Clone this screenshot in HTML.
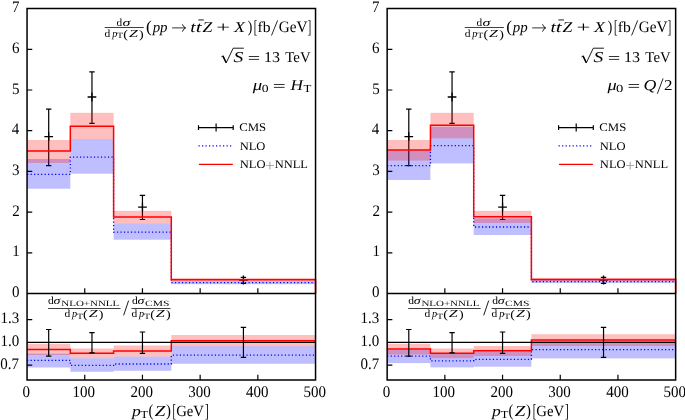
<!DOCTYPE html>
<html><head><meta charset="utf-8"><style>
html,body{margin:0;padding:0;background:#fff;width:685px;height:420px;overflow:hidden}
svg{display:block}
text{font-family:'Liberation Serif',serif;text-rendering:geometricPrecision}
svg{will-change:transform}
</style></head><body>
<svg width="685" height="420" viewBox="0 0 685 420">
<path d="M48.69 109.1V165.6M45.99 109.1H51.39M45.99 165.6H51.39" stroke="#000" stroke-width="1.2" fill="none"/>
<path d="M44.34 136.6H53.04M48.69 132.2V141" stroke="#000" stroke-width="1.3" fill="none"/>
<path d="M91.96 71.8V123.4M89.26 71.8H94.66M89.26 123.4H94.66" stroke="#000" stroke-width="1.2" fill="none"/>
<path d="M87.61 97H96.31M91.96 92.6V101.4" stroke="#000" stroke-width="1.3" fill="none"/>
<path d="M142.45 195.3V219.5M139.75 195.3H145.15M139.75 219.5H145.15" stroke="#000" stroke-width="1.2" fill="none"/>
<path d="M138.1 207.2H146.8M142.45 202.8V211.6" stroke="#000" stroke-width="1.3" fill="none"/>
<path d="M243.43 277.3V283.4M240.73 277.3H246.12M240.73 283.4H246.12" stroke="#000" stroke-width="1.2" fill="none"/>
<path d="M239.08 280H247.78M243.43 275.6V284.4" stroke="#000" stroke-width="1.3" fill="none"/>
<rect x="27.05" y="159" width="43.28" height="29.7" fill="rgba(0,0,255,0.25)"/>
<rect x="70.33" y="139.2" width="43.27" height="34.5" fill="rgba(0,0,255,0.25)"/>
<rect x="113.6" y="223.3" width="57.7" height="16.4" fill="rgba(0,0,255,0.25)"/>
<rect x="171.3" y="281" width="144.25" height="3.2" fill="rgba(0,0,255,0.25)"/>
<rect x="27.05" y="140" width="43.28" height="23" fill="rgba(255,0,0,0.25)"/>
<rect x="70.33" y="112.8" width="43.27" height="26.6" fill="rgba(255,0,0,0.25)"/>
<rect x="113.6" y="210.8" width="57.7" height="12.5" fill="rgba(255,0,0,0.25)"/>
<rect x="171.3" y="277.9" width="144.25" height="3.1" fill="rgba(255,0,0,0.25)"/>
<polyline points="27.05,174.3 70.33,174.3 70.33,157.2 113.6,157.2 113.6,232.2 171.3,232.2 171.3,282.7 315.55,282.7" fill="none" stroke="#0000ff" stroke-width="1.3" stroke-dasharray="1.2 2.3"/>
<rect x="27.05" y="353.6" width="43.28" height="13.9" fill="rgba(0,0,255,0.25)"/>
<rect x="70.33" y="358.2" width="43.27" height="13.6" fill="rgba(0,0,255,0.25)"/>
<rect x="113.6" y="356.5" width="57.7" height="14.3" fill="rgba(0,0,255,0.25)"/>
<rect x="171.3" y="346.2" width="144.25" height="17.6" fill="rgba(0,0,255,0.25)"/>
<rect x="27.05" y="343.8" width="43.28" height="11.2" fill="rgba(255,0,0,0.25)"/>
<rect x="70.33" y="348.5" width="43.27" height="9.7" fill="rgba(255,0,0,0.25)"/>
<rect x="113.6" y="345.5" width="57.7" height="11" fill="rgba(255,0,0,0.25)"/>
<rect x="171.3" y="335" width="144.25" height="11.4" fill="rgba(255,0,0,0.25)"/>
<polyline points="27.05,360.4 70.33,360.4 70.33,365.4 113.6,365.4 113.6,364 171.3,364 171.3,355.2 315.55,355.2" fill="none" stroke="#0000ff" stroke-width="1.3" stroke-dasharray="1.2 2.3"/>
<polyline points="27.05,151 70.33,151 70.33,126.2 113.6,126.2 113.6,217 171.3,217 171.3,279.8 315.55,279.8 315.55,293.5" fill="none" stroke="#ff0000" stroke-width="1.5"/>
<polyline points="27.05,349.6 70.33,349.6 70.33,353.3 113.6,353.3 113.6,351.1 171.3,351.1 171.3,340.8 315.55,340.8" fill="none" stroke="#ff0000" stroke-width="1.5"/>
<line x1="27.05" y1="342.4" x2="315.55" y2="342.4" stroke="#000" stroke-width="1.2"/>
<path d="M48.69 329.5V356.2M45.99 329.5H51.39M45.99 356.2H51.39" stroke="#000" stroke-width="1.2" fill="none"/>
<path d="M91.96 332.6V352.8M89.26 332.6H94.66M89.26 352.8H94.66" stroke="#000" stroke-width="1.2" fill="none"/>
<path d="M142.45 332V353.3M139.75 332H145.15M139.75 353.3H145.15" stroke="#000" stroke-width="1.2" fill="none"/>
<path d="M243.43 327.3V357.4M240.73 327.3H246.12M240.73 357.4H246.12" stroke="#000" stroke-width="1.2" fill="none"/>
<path d="M27.05 8.6H315.55V379.9H27.05ZM27.05 293.5H315.55" stroke="#000" stroke-width="1.5" fill="none"/>
<path d="M27.05 252.8h5.2M27.05 212.1h5.2M27.05 171.4h5.2M27.05 130.7h5.2M27.05 90h5.2M27.05 49.3h5.2M27.05 365.2h5.2M27.05 319.6h5.2M84.75 293.5v-5.2M84.75 379.9v-5.2M142.45 293.5v-5.2M142.45 379.9v-5.2M200.15 293.5v-5.2M200.15 379.9v-5.2M257.85 293.5v-5.2M257.85 379.9v-5.2" stroke="#000" stroke-width="1.2" fill="none"/>
<text transform="translate(12.02 297) scale(1.000 1.070)" font-size="15">0</text>
<text transform="translate(12.35 256.3) scale(1.000 1.070)" font-size="15">1</text>
<text transform="translate(12.28 215.6) scale(1.000 1.070)" font-size="15">2</text>
<text transform="translate(12.04 174.9) scale(1.000 1.070)" font-size="15">3</text>
<text transform="translate(11.68 134.2) scale(1.000 1.070)" font-size="15">4</text>
<text transform="translate(12.04 93.5) scale(1.000 1.070)" font-size="15">5</text>
<text transform="translate(11.9 52.8) scale(1.000 1.070)" font-size="15">6</text>
<text transform="translate(11.88 12.1) scale(1.000 1.070)" font-size="15">7</text>
<text transform="translate(0.33 368.9) scale(1.000 1.070)" font-size="15">0.7</text>
<text transform="translate(0.47 346.1) scale(1.000 1.070)" font-size="15">1.0</text>
<text transform="translate(0.49 323.3) scale(1.000 1.070)" font-size="15">1.3</text>
<text transform="translate(22.6 396.6) scale(1.000 1.080)" font-size="15">0</text>
<text transform="translate(72.43 396.6) scale(1.000 1.080)" font-size="15">100</text>
<text transform="translate(130.46 396.6) scale(1.000 1.080)" font-size="15">200</text>
<text transform="translate(188.13 396.6) scale(1.000 1.080)" font-size="15">300</text>
<text transform="translate(246.04 396.6) scale(1.000 1.080)" font-size="15">400</text>
<text transform="translate(303.45 396.6) scale(1.000 1.080)" font-size="15">500</text>
<text transform="translate(116.49 25.6) scale(1.046 1.000)" font-size="10.8">d</text>
<text transform="translate(122.52 25.6) scale(1.477 1.000)" font-size="10.8" font-style="italic">σ</text>
<rect x="104.7" y="27.2" width="39.1" height="0.75" fill="#000"/>
<text transform="translate(104.58 36.6) scale(1.066 1.000)" font-size="10.8">d</text>
<text transform="translate(112.2 36.6) scale(0.946 1.000)" font-size="10.8" font-style="italic">p</text>
<text transform="translate(117.12 38.4) scale(1.237 1.000)" font-size="8">T</text>
<text transform="translate(123.28 37.53) scale(1.298 1.072)" font-size="10.8">(</text>
<text transform="translate(128.91 36.6) scale(1.475 1.000)" font-size="10.8" font-style="italic">Z</text>
<text transform="translate(139.05 37.53) scale(1.298 1.072)" font-size="10.8">)</text>
<text transform="translate(146.05 32) scale(1.142 1.096)" font-size="15">(</text>
<text transform="translate(152.67 31.6) scale(0.992 1.000)" font-size="15" font-style="italic">pp</text>
<path d="M172.1 27.9H185.2" stroke="#000" stroke-width="0.8"/>
<path d="M182.4 24.3Q183.4 27.1 185.7 27.9Q183.4 28.7 182.4 31.6" stroke="#000" stroke-width="0.9" fill="none"/>
<text transform="translate(190.35 31.6) scale(1.287 1.000)" font-size="15" font-style="italic">t</text>
<text transform="translate(195.77 31.6) scale(1.418 1.000)" font-size="15" font-style="italic">t</text>
<rect x="198.3" y="19.5" width="5.5" height="0.9" fill="#000"/>
<text transform="translate(202.48 31.6) scale(1.183 1.000)" font-size="15" font-style="italic">Z</text>
<text transform="translate(216.28 31.6) scale(1.633 1.000)" font-size="15">+</text>
<text transform="translate(233.9 31.6) scale(1.203 1.000)" font-size="15" font-style="italic">X</text>
<text transform="translate(247.76 32) scale(0.908 1.096)" font-size="15">)</text>
<text transform="translate(253.83 33.04) scale(0.689 1.224)" font-size="15">[</text>
<text transform="translate(257.62 31.55) scale(1.038 0.999)" font-size="15">fb</text>
<path d="M271.5 35.5L277.6 20.4" stroke="#000" stroke-width="0.85"/>
<text transform="translate(278.67 31.56) scale(1.020 1.063)" font-size="15">GeV</text>
<text transform="translate(307.73 33.04) scale(0.689 1.224)" font-size="15">]</text>
<path d="M221.4 56.9L222.9 55.9L226.2 62.8L233.2 48.2H243.8" fill="none" stroke="#000" stroke-width="0.9" stroke-linejoin="miter"/>
<path d="M222.9 55.9L226.2 62.8" fill="none" stroke="#000" stroke-width="1.5"/>
<text transform="translate(233.47 61.7) scale(1.313 1.000)" font-size="15" font-style="italic">S</text>
<path d="M248.8 56.5H259.1M248.8 59.4H259.1" stroke="#000" stroke-width="0.8"/>
<text transform="translate(263.99 61.7) scale(1.069 1.000)" font-size="15">13</text>
<text transform="translate(285.23 61.7) scale(0.992 1.000)" font-size="15">TeV</text>
<text transform="translate(252.82 90) scale(1.249 1.000)" font-size="15" font-style="italic">μ</text>
<text transform="translate(261.68 92.4) scale(1.267 1.000)" font-size="10.8">0</text>
<path d="M273.9 84.5H284.6M273.9 87.4H284.6" stroke="#000" stroke-width="0.8"/>
<text transform="translate(290.39 90) scale(1.148 1.000)" font-size="15" font-style="italic">H</text>
<text transform="translate(303.57 92.4) scale(1.189 1.000)" font-size="10.8">T</text>
<path d="M198.5 127.7H233.2M198.5 125.3V130.1M233.2 125.3V130.1M216.1 123.5V131.5" stroke="#000" stroke-width="1.2" fill="none"/>
<text transform="translate(239.18 131) scale(1.103 1.000)" font-size="11.6">CMS</text>
<path d="M198.5 145.9H232.5" stroke="#0000ff" stroke-width="1.2" stroke-dasharray="1.2 2.3" fill="none"/>
<text transform="translate(239.64 149.6) scale(1.081 1.000)" font-size="11.6">NLO</text>
<path d="M198.9 164.4H232.8" stroke="#ff0000" stroke-width="1.4" fill="none"/>
<text transform="translate(239.74 167.9) scale(1.081 1.000)" font-size="11.6">NLO</text>
<text transform="translate(265.03 170.62) scale(1.501 1.406)" font-size="11.6" fill="#999">+</text>
<text transform="translate(274.74 167.9) scale(1.074 1.000)" font-size="11.6">NNLL</text>
<text transform="translate(48.08 303.8) scale(1.066 1.000)" font-size="10.8">d</text>
<text transform="translate(53.58 303.8) scale(1.290 1.000)" font-size="10.8" font-style="italic">σ</text>
<text transform="translate(61.28 306.2) scale(1.371 1.000)" font-size="8">NLO+NNLL</text>
<rect x="48.1" y="308.25" width="72.4" height="0.75" fill="#000"/>
<text transform="translate(64.38 316.9) scale(1.066 1.000)" font-size="10.8">d</text>
<text transform="translate(72 316.9) scale(0.946 1.000)" font-size="10.8" font-style="italic">p</text>
<text transform="translate(76.92 318.7) scale(1.237 1.000)" font-size="8">T</text>
<text transform="translate(83.08 317.83) scale(1.298 1.072)" font-size="10.8">(</text>
<text transform="translate(88.71 316.9) scale(1.475 1.000)" font-size="10.8" font-style="italic">Z</text>
<text transform="translate(98.85 317.83) scale(1.298 1.072)" font-size="10.8">)</text>
<path d="M123.6 315.4L128.6 300.6" stroke="#000" stroke-width="0.9"/>
<text transform="translate(132.08 303.8) scale(1.066 1.000)" font-size="10.8">d</text>
<text transform="translate(137.58 303.8) scale(1.290 1.000)" font-size="10.8" font-style="italic">σ</text>
<text transform="translate(144.93 306.2) scale(1.443 1.000)" font-size="8">CMS</text>
<rect x="131.4" y="308.25" width="39.1" height="0.75" fill="#000"/>
<text transform="translate(131.48 316.9) scale(1.066 1.000)" font-size="10.8">d</text>
<text transform="translate(139.1 316.9) scale(0.946 1.000)" font-size="10.8" font-style="italic">p</text>
<text transform="translate(144.02 318.7) scale(1.237 1.000)" font-size="8">T</text>
<text transform="translate(150.18 317.83) scale(1.298 1.072)" font-size="10.8">(</text>
<text transform="translate(155.81 316.9) scale(1.475 1.000)" font-size="10.8" font-style="italic">Z</text>
<text transform="translate(165.95 317.83) scale(1.298 1.072)" font-size="10.8">)</text>
<text transform="translate(131.93 415.7) scale(1.174 1.000)" font-size="15" font-style="italic">p</text>
<text transform="translate(140.57 417.7) scale(1.157 1.000)" font-size="10.8">T</text>
<text transform="translate(148.45 415.96) scale(0.986 1.140)" font-size="15">(</text>
<text transform="translate(154.77 415.6) scale(1.268 1.028)" font-size="15" font-style="italic">Z</text>
<text transform="translate(166.02 415.96) scale(0.986 1.140)" font-size="15">)</text>
<text transform="translate(172.53 417.09) scale(0.689 1.249)" font-size="15">[</text>
<text transform="translate(176.2 415.57) scale(0.980 1.034)" font-size="15">GeV</text>
<text transform="translate(204.99 417.09) scale(0.749 1.249)" font-size="15">]</text>
<path d="M408.79 109.1V165.6M406.09 109.1H411.49M406.09 165.6H411.49" stroke="#000" stroke-width="1.2" fill="none"/>
<path d="M404.44 136.6H413.14M408.79 132.2V141" stroke="#000" stroke-width="1.3" fill="none"/>
<path d="M452.06 71.8V123.4M449.36 71.8H454.76M449.36 123.4H454.76" stroke="#000" stroke-width="1.2" fill="none"/>
<path d="M447.71 97H456.41M452.06 92.6V101.4" stroke="#000" stroke-width="1.3" fill="none"/>
<path d="M502.55 195.3V219.5M499.85 195.3H505.25M499.85 219.5H505.25" stroke="#000" stroke-width="1.2" fill="none"/>
<path d="M498.2 207.2H506.9M502.55 202.8V211.6" stroke="#000" stroke-width="1.3" fill="none"/>
<path d="M603.53 277.3V283.4M600.83 277.3H606.23M600.83 283.4H606.23" stroke="#000" stroke-width="1.2" fill="none"/>
<path d="M599.18 280H607.88M603.53 275.6V284.4" stroke="#000" stroke-width="1.3" fill="none"/>
<rect x="387.15" y="150.3" width="43.27" height="29.7" fill="rgba(0,0,255,0.25)"/>
<rect x="430.43" y="126.8" width="43.28" height="36.6" fill="rgba(0,0,255,0.25)"/>
<rect x="473.7" y="218.3" width="57.7" height="16.7" fill="rgba(0,0,255,0.25)"/>
<rect x="531.4" y="279.8" width="144.25" height="3.2" fill="rgba(0,0,255,0.25)"/>
<rect x="387.15" y="140" width="43.27" height="20.6" fill="rgba(255,0,0,0.25)"/>
<rect x="430.43" y="112.8" width="43.28" height="25.6" fill="rgba(255,0,0,0.25)"/>
<rect x="473.7" y="210.8" width="57.7" height="12.2" fill="rgba(255,0,0,0.25)"/>
<rect x="531.4" y="277.9" width="144.25" height="3.1" fill="rgba(255,0,0,0.25)"/>
<polyline points="387.15,165.6 430.43,165.6 430.43,145.7 473.7,145.7 473.7,227 531.4,227 531.4,281.6 675.65,281.6" fill="none" stroke="#0000ff" stroke-width="1.3" stroke-dasharray="1.2 2.3"/>
<rect x="387.15" y="349.9" width="43.27" height="13.2" fill="rgba(0,0,255,0.25)"/>
<rect x="430.43" y="353.9" width="43.28" height="13.5" fill="rgba(0,0,255,0.25)"/>
<rect x="473.7" y="351.4" width="57.7" height="15.3" fill="rgba(0,0,255,0.25)"/>
<rect x="531.4" y="340.4" width="144.25" height="18" fill="rgba(0,0,255,0.25)"/>
<rect x="387.15" y="343.8" width="43.27" height="10.8" fill="rgba(255,0,0,0.25)"/>
<rect x="430.43" y="348.5" width="43.28" height="9.7" fill="rgba(255,0,0,0.25)"/>
<rect x="473.7" y="346" width="57.7" height="10" fill="rgba(255,0,0,0.25)"/>
<rect x="531.4" y="334.2" width="144.25" height="11.8" fill="rgba(255,0,0,0.25)"/>
<polyline points="387.15,356.1 430.43,356.1 430.43,360.9 473.7,360.9 473.7,359.4 531.4,359.4 531.4,349.6 675.65,349.6" fill="none" stroke="#0000ff" stroke-width="1.3" stroke-dasharray="1.2 2.3"/>
<polyline points="387.15,149.9 430.43,149.9 430.43,125.2 473.7,125.2 473.7,216.7 531.4,216.7 531.4,279.6 675.65,279.6 675.65,293.5" fill="none" stroke="#ff0000" stroke-width="1.5"/>
<polyline points="387.15,348.9 430.43,348.9 430.43,353.3 473.7,353.3 473.7,350.7 531.4,350.7 531.4,340.1 675.65,340.1" fill="none" stroke="#ff0000" stroke-width="1.5"/>
<line x1="387.15" y1="342.4" x2="675.65" y2="342.4" stroke="#000" stroke-width="1.2"/>
<path d="M408.79 329.5V356.2M406.09 329.5H411.49M406.09 356.2H411.49" stroke="#000" stroke-width="1.2" fill="none"/>
<path d="M452.06 332.6V352.8M449.36 332.6H454.76M449.36 352.8H454.76" stroke="#000" stroke-width="1.2" fill="none"/>
<path d="M502.55 332V353.3M499.85 332H505.25M499.85 353.3H505.25" stroke="#000" stroke-width="1.2" fill="none"/>
<path d="M603.53 327.3V357.4M600.83 327.3H606.23M600.83 357.4H606.23" stroke="#000" stroke-width="1.2" fill="none"/>
<path d="M387.15 8.6H675.65V379.9H387.15ZM387.15 293.5H675.65" stroke="#000" stroke-width="1.5" fill="none"/>
<path d="M387.15 252.8h5.2M387.15 212.1h5.2M387.15 171.4h5.2M387.15 130.7h5.2M387.15 90h5.2M387.15 49.3h5.2M387.15 365.2h5.2M387.15 319.6h5.2M444.85 293.5v-5.2M444.85 379.9v-5.2M502.55 293.5v-5.2M502.55 379.9v-5.2M560.25 293.5v-5.2M560.25 379.9v-5.2M617.95 293.5v-5.2M617.95 379.9v-5.2" stroke="#000" stroke-width="1.2" fill="none"/>
<text transform="translate(372.12 297) scale(1.000 1.070)" font-size="15">0</text>
<text transform="translate(372.45 256.3) scale(1.000 1.070)" font-size="15">1</text>
<text transform="translate(372.38 215.6) scale(1.000 1.070)" font-size="15">2</text>
<text transform="translate(372.14 174.9) scale(1.000 1.070)" font-size="15">3</text>
<text transform="translate(371.78 134.2) scale(1.000 1.070)" font-size="15">4</text>
<text transform="translate(372.14 93.5) scale(1.000 1.070)" font-size="15">5</text>
<text transform="translate(372 52.8) scale(1.000 1.070)" font-size="15">6</text>
<text transform="translate(371.98 12.1) scale(1.000 1.070)" font-size="15">7</text>
<text transform="translate(360.43 368.9) scale(1.000 1.070)" font-size="15">0.7</text>
<text transform="translate(360.57 346.1) scale(1.000 1.070)" font-size="15">1.0</text>
<text transform="translate(360.59 323.3) scale(1.000 1.070)" font-size="15">1.3</text>
<text transform="translate(382.7 396.6) scale(1.000 1.080)" font-size="15">0</text>
<text transform="translate(432.53 396.6) scale(1.000 1.080)" font-size="15">100</text>
<text transform="translate(490.56 396.6) scale(1.000 1.080)" font-size="15">200</text>
<text transform="translate(548.23 396.6) scale(1.000 1.080)" font-size="15">300</text>
<text transform="translate(606.14 396.6) scale(1.000 1.080)" font-size="15">400</text>
<text transform="translate(663.55 396.6) scale(1.000 1.080)" font-size="15">500</text>
<text transform="translate(476.59 25.6) scale(1.046 1.000)" font-size="10.8">d</text>
<text transform="translate(482.62 25.6) scale(1.477 1.000)" font-size="10.8" font-style="italic">σ</text>
<rect x="464.8" y="27.2" width="39.1" height="0.75" fill="#000"/>
<text transform="translate(464.68 36.6) scale(1.066 1.000)" font-size="10.8">d</text>
<text transform="translate(472.3 36.6) scale(0.946 1.000)" font-size="10.8" font-style="italic">p</text>
<text transform="translate(477.22 38.4) scale(1.237 1.000)" font-size="8">T</text>
<text transform="translate(483.38 37.53) scale(1.298 1.072)" font-size="10.8">(</text>
<text transform="translate(489.01 36.6) scale(1.475 1.000)" font-size="10.8" font-style="italic">Z</text>
<text transform="translate(499.15 37.53) scale(1.298 1.072)" font-size="10.8">)</text>
<text transform="translate(506.15 32) scale(1.142 1.096)" font-size="15">(</text>
<text transform="translate(512.77 31.6) scale(0.992 1.000)" font-size="15" font-style="italic">pp</text>
<path d="M532.2 27.9H545.3" stroke="#000" stroke-width="0.8"/>
<path d="M542.5 24.3Q543.5 27.1 545.8 27.9Q543.5 28.7 542.5 31.6" stroke="#000" stroke-width="0.9" fill="none"/>
<text transform="translate(550.45 31.6) scale(1.287 1.000)" font-size="15" font-style="italic">t</text>
<text transform="translate(555.87 31.6) scale(1.418 1.000)" font-size="15" font-style="italic">t</text>
<rect x="558.4" y="19.5" width="5.5" height="0.9" fill="#000"/>
<text transform="translate(562.58 31.6) scale(1.183 1.000)" font-size="15" font-style="italic">Z</text>
<text transform="translate(576.38 31.6) scale(1.633 1.000)" font-size="15">+</text>
<text transform="translate(594 31.6) scale(1.203 1.000)" font-size="15" font-style="italic">X</text>
<text transform="translate(607.86 32) scale(0.908 1.096)" font-size="15">)</text>
<text transform="translate(613.93 33.04) scale(0.689 1.224)" font-size="15">[</text>
<text transform="translate(617.72 31.55) scale(1.038 0.999)" font-size="15">fb</text>
<path d="M631.6 35.5L637.7 20.4" stroke="#000" stroke-width="0.85"/>
<text transform="translate(638.77 31.56) scale(1.020 1.063)" font-size="15">GeV</text>
<text transform="translate(667.83 33.04) scale(0.689 1.224)" font-size="15">]</text>
<path d="M581.5 56.9L583 55.9L586.3 62.8L593.3 48.2H603.9" fill="none" stroke="#000" stroke-width="0.9" stroke-linejoin="miter"/>
<path d="M583 55.9L586.3 62.8" fill="none" stroke="#000" stroke-width="1.5"/>
<text transform="translate(593.57 61.7) scale(1.313 1.000)" font-size="15" font-style="italic">S</text>
<path d="M608.9 56.5H619.2M608.9 59.4H619.2" stroke="#000" stroke-width="0.8"/>
<text transform="translate(624.09 61.7) scale(1.069 1.000)" font-size="15">13</text>
<text transform="translate(645.33 61.7) scale(0.992 1.000)" font-size="15">TeV</text>
<text transform="translate(607.62 90) scale(1.221 1.000)" font-size="15" font-style="italic">μ</text>
<text transform="translate(616.04 92.4) scale(1.354 1.000)" font-size="10.8">0</text>
<path d="M628.6 84.5H639.1M628.6 87.4H639.1" stroke="#000" stroke-width="0.8"/>
<text transform="translate(643.52 90) scale(1.182 1.000)" font-size="15" font-style="italic">Q</text>
<path d="M657.3 93.8L663.1 78.4" stroke="#000" stroke-width="0.85"/>
<text transform="translate(663.95 90) scale(1.131 1.000)" font-size="15">2</text>
<path d="M558.6 127.7H593.3M558.6 125.3V130.1M593.3 125.3V130.1M576.2 123.5V131.5" stroke="#000" stroke-width="1.2" fill="none"/>
<text transform="translate(599.28 131) scale(1.103 1.000)" font-size="11.6">CMS</text>
<path d="M558.6 145.9H592.6" stroke="#0000ff" stroke-width="1.2" stroke-dasharray="1.2 2.3" fill="none"/>
<text transform="translate(599.74 149.6) scale(1.081 1.000)" font-size="11.6">NLO</text>
<path d="M559 164.4H592.9" stroke="#ff0000" stroke-width="1.4" fill="none"/>
<text transform="translate(599.84 167.9) scale(1.081 1.000)" font-size="11.6">NLO</text>
<text transform="translate(625.13 170.62) scale(1.501 1.406)" font-size="11.6" fill="#999">+</text>
<text transform="translate(634.84 167.9) scale(1.074 1.000)" font-size="11.6">NNLL</text>
<text transform="translate(408.18 303.8) scale(1.066 1.000)" font-size="10.8">d</text>
<text transform="translate(413.68 303.8) scale(1.290 1.000)" font-size="10.8" font-style="italic">σ</text>
<text transform="translate(421.38 306.2) scale(1.371 1.000)" font-size="8">NLO+NNLL</text>
<rect x="408.2" y="308.25" width="72.4" height="0.75" fill="#000"/>
<text transform="translate(424.48 316.9) scale(1.066 1.000)" font-size="10.8">d</text>
<text transform="translate(432.1 316.9) scale(0.946 1.000)" font-size="10.8" font-style="italic">p</text>
<text transform="translate(437.02 318.7) scale(1.237 1.000)" font-size="8">T</text>
<text transform="translate(443.18 317.83) scale(1.298 1.072)" font-size="10.8">(</text>
<text transform="translate(448.81 316.9) scale(1.475 1.000)" font-size="10.8" font-style="italic">Z</text>
<text transform="translate(458.95 317.83) scale(1.298 1.072)" font-size="10.8">)</text>
<path d="M483.7 315.4L488.7 300.6" stroke="#000" stroke-width="0.9"/>
<text transform="translate(492.18 303.8) scale(1.066 1.000)" font-size="10.8">d</text>
<text transform="translate(497.68 303.8) scale(1.290 1.000)" font-size="10.8" font-style="italic">σ</text>
<text transform="translate(505.03 306.2) scale(1.443 1.000)" font-size="8">CMS</text>
<rect x="491.5" y="308.25" width="39.1" height="0.75" fill="#000"/>
<text transform="translate(491.58 316.9) scale(1.066 1.000)" font-size="10.8">d</text>
<text transform="translate(499.2 316.9) scale(0.946 1.000)" font-size="10.8" font-style="italic">p</text>
<text transform="translate(504.12 318.7) scale(1.237 1.000)" font-size="8">T</text>
<text transform="translate(510.28 317.83) scale(1.298 1.072)" font-size="10.8">(</text>
<text transform="translate(515.91 316.9) scale(1.475 1.000)" font-size="10.8" font-style="italic">Z</text>
<text transform="translate(526.05 317.83) scale(1.298 1.072)" font-size="10.8">)</text>
<text transform="translate(492.03 415.7) scale(1.174 1.000)" font-size="15" font-style="italic">p</text>
<text transform="translate(500.67 417.7) scale(1.157 1.000)" font-size="10.8">T</text>
<text transform="translate(508.55 415.96) scale(0.986 1.140)" font-size="15">(</text>
<text transform="translate(514.87 415.6) scale(1.268 1.028)" font-size="15" font-style="italic">Z</text>
<text transform="translate(526.12 415.96) scale(0.986 1.140)" font-size="15">)</text>
<text transform="translate(532.63 417.09) scale(0.689 1.249)" font-size="15">[</text>
<text transform="translate(536.3 415.57) scale(0.980 1.034)" font-size="15">GeV</text>
<text transform="translate(565.09 417.09) scale(0.749 1.249)" font-size="15">]</text>
</svg>
</body></html>
